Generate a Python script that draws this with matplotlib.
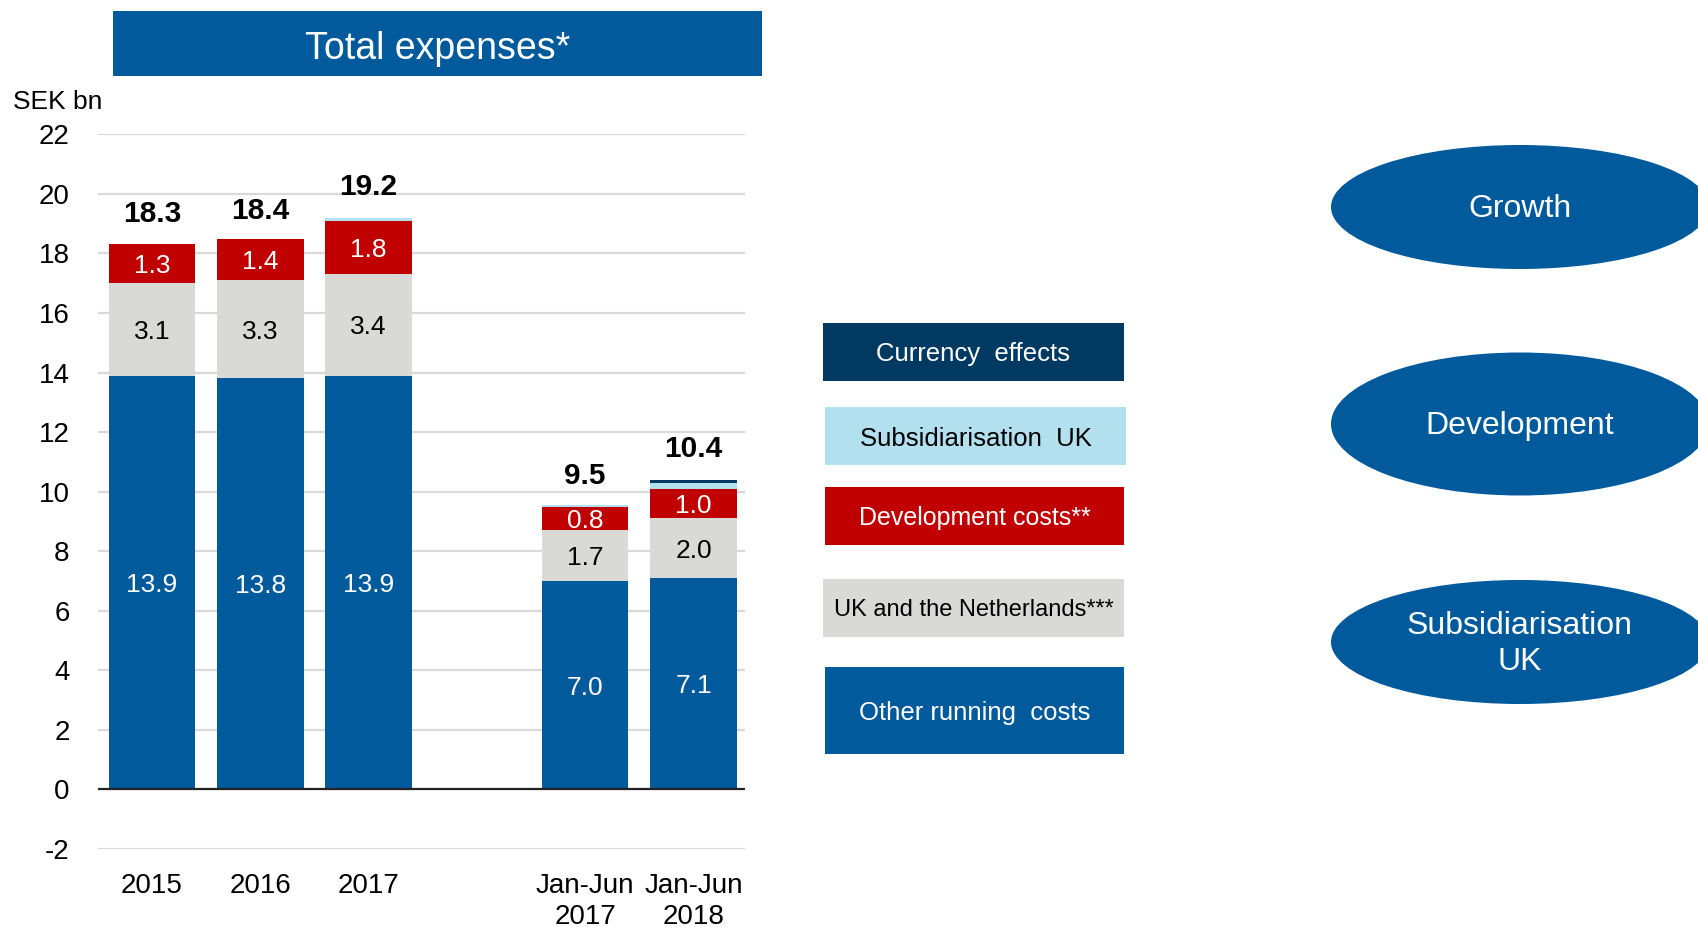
import matplotlib
matplotlib.use("Agg")
import matplotlib.pyplot as plt
from matplotlib.patches import Rectangle, Ellipse
import numpy as np

plt.rcParams["font.family"] = ["Liberation Sans", "DejaVu Sans"]

# ---- data (SEK bn) ----
periods = ["2015", "2016", "2017", "Jan-Jun\n2017", "Jan-Jun\n2018"]
other_running = [13.9, 13.8, 13.9, 7.0, 7.1]
uk_nl = [3.1, 3.3, 3.4, 1.7, 2.0]
development = [1.3, 1.4, 1.8, 0.8, 1.0]
subsidiarisation_uk = [0.0, 0.0, 0.1, 0.05, 0.2]
currency = [0.0, 0.0, 0.0, 0.0, 0.1]
totals = [18.3, 18.4, 19.2, 9.5, 10.4]
yticks = list(range(-2, 23, 2))

legend_labels = ["Currency  effects", "Subsidiarisation  UK", "Development costs**",
                 "UK and the Netherlands***", "Other running  costs"]
themes = ["Growth", "Development", "Subsidiarisation\nUK"]

# ---- colours ----
BLUE = "#005A9C"
GREY = "#D9D9D6"
RED = "#C00000"
LIGHT = "#B3E0EF"
NAVY = "#003A63"

W, H = 1698, 927
fig = plt.figure(figsize=(W / 100, H / 100), dpi=100)

# chart axes placed in pixel terms
left, right, top, bottom = 97.5, 745, 134.3, 849
ax = fig.add_axes([left / W, 1 - bottom / H, (right - left) / W, (bottom - top) / H])

x = np.array([0, 1, 2, 4, 5], dtype=float)
bw = 0.8
series = [
    (other_running, BLUE, "white"),
    (uk_nl, GREY, "black"),
    (development, RED, "white"),
    (subsidiarisation_uk, LIGHT, None),
    (currency, NAVY, None),
]
base = np.zeros(len(x))
for vals, col, tcol in series:
    vals = np.array(vals, dtype=float)
    ax.bar(x, vals, bw, bottom=base, color=col, zorder=2, linewidth=0)
    if tcol is not None:
        for xi, b, v in zip(x, base, vals):
            ax.text(xi, b + v / 2, f"{v:.1f}", ha="center", va="center_baseline",
                    fontsize=19, color=tcol, zorder=3)
    base = base + vals

for xi, t in zip(x, totals):
    ax.text(xi, t + 1.12, f"{t:.1f}", ha="center", va="center_baseline",
            fontsize=21.5, fontweight="bold", color="black", zorder=3)

ax.set_xlim(-0.503, 5.476)
ax.set_ylim(-2, 22)
ax.set_yticks(yticks)
ax.set_yticklabels([str(v) for v in yticks], fontsize=20)
ax.set_xticks(x)
ax.set_xticklabels(periods, fontsize=20, linespacing=1.25)
ax.tick_params(axis="both", length=0)
ax.tick_params(axis="y", pad=20)
ax.tick_params(axis="x", pad=17)
for v in yticks:
    if v != 0:
        ax.axhline(v, color="#D9D9D9", lw=1.6, zorder=1)
ax.axhline(0, color="#222222", lw=1.6, zorder=4)
for s in ax.spines.values():
    s.set_visible(False)

# overlay in pixel coordinates for the boxes and shapes
ov = fig.add_axes([0, 0, 1, 1], zorder=-1)
ov.set_xlim(0, W)
ov.set_ylim(H, 0)
ov.axis("off")

ov.text(13, 99, "SEK bn", fontsize=19, ha="left", va="center_baseline")

# title banner
ov.add_patch(Rectangle((113, 11), 649, 65, color=BLUE, lw=0))
ov.text(437.5, 45, "Total expenses*", fontsize=27, color="white",
        ha="center", va="center_baseline")

# legend boxes
boxes = [
    (823, 323, 301, 58, NAVY, "white", 18.5),
    (825, 407, 301, 58, LIGHT, "black", 18.5),
    (825, 487, 299, 58, RED, "white", 18),
    (823, 579, 301, 58, GREY, "black", 17),
    (825, 667, 299, 87, BLUE, "white", 18.5),
]
for (bx, by, bwid, bh, col, tc, fs), lab in zip(boxes, legend_labels):
    ov.add_patch(Rectangle((bx, by), bwid, bh, color=col, lw=0))
    ov.text(bx + bwid / 2, by + bh / 2, lab, fontsize=fs, color=tc,
            ha="center", va="center_baseline")

# theme ellipses
ellipses = [(1520, 207, 124), (1520, 424, 143), (1520, 642, 124)]
for (cx, cy, eh), lab in zip(ellipses, themes):
    ov.add_patch(Ellipse((cx, cy), 378, eh, color=BLUE, lw=0))
    ov.text(cx, cy + 2, lab, fontsize=23, color="white", ha="center",
            va="center", linespacing=1.3)

fig.savefig("out.png", dpi=100)
